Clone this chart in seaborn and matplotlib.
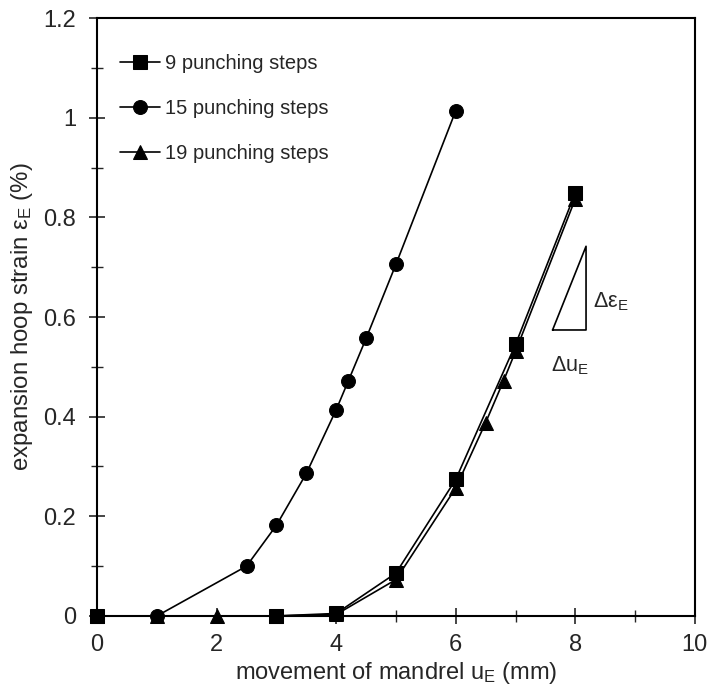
import numpy as np
import pandas as pd
import seaborn as sns
import matplotlib.pyplot as plt
from matplotlib.ticker import MultipleLocator, FuncFormatter

# data
u_9 = [0, 3, 4, 5, 6, 7, 8]
eps_9 = [0, 0, 0.005, 0.086, 0.274, 0.545, 0.849]

u_15 = [0, 1, 2.5, 3, 3.5, 4, 4.2, 4.5, 5, 6]
eps_15 = [0, 0, 0.1, 0.182, 0.286, 0.414, 0.471, 0.557, 0.706, 1.014]

u_19 = [0, 1, 2, 3, 4, 5, 6, 6.5, 6.8, 7, 8]
eps_19 = [0, 0, 0, 0, 0.003, 0.073, 0.257, 0.388, 0.472, 0.531, 0.837]

labels = ['9 punching steps', '15 punching steps', '19 punching steps']
markers = ['s', 'o', '^']

# slope triangle (annotation)
tri_u = [7.62, 8.18, 8.18, 7.62]
tri_eps = [0.574, 0.742, 0.574, 0.574]

sns.set_style('ticks')
plt.rcParams['font.family'] = ['Liberation Sans', 'DejaVu Sans']
plt.rcParams['mathtext.fontset'] = 'custom'
plt.rcParams['mathtext.rm'] = 'Liberation Sans'
plt.rcParams['mathtext.it'] = 'Liberation Sans'

fig = plt.figure(figsize=(7.09, 6.96), dpi=100)
ax = fig.add_axes([0.137, 0.115, 0.843, 0.859])

series = [(u_9, eps_9), (u_15, eps_15), (u_19, eps_19)]
for (u, e), lab, m in zip(series, labels, markers):
    df = pd.DataFrame({'u': u, 'eps': e})
    sns.lineplot(data=df, x='u', y='eps', ax=ax, color='black', marker=m,
                 markersize=10, markeredgecolor='black', linewidth=1.2,
                 label=lab, clip_on=False, zorder=3)

ax.plot(tri_u, tri_eps, color='black', linewidth=1.2)
ax.text(8.3, 0.62, r'Δε$_\mathregular{E}$', fontsize=15.5)
ax.text(7.6, 0.49, r'Δu$_\mathregular{E}$', fontsize=15.5)

ax.set_xlim(0, 10)
ax.set_ylim(0, 1.2)
ax.xaxis.set_major_locator(MultipleLocator(2))
ax.xaxis.set_minor_locator(MultipleLocator(1))
ax.yaxis.set_major_locator(MultipleLocator(0.2))
ax.yaxis.set_minor_locator(MultipleLocator(0.1))
ax.yaxis.set_major_formatter(FuncFormatter(lambda v, p: '{:g}'.format(round(v, 2))))
ax.tick_params(which='major', direction='inout', length=12, width=1.2, labelsize=17,
               top=False, right=False)
ax.tick_params(axis='x', which='major', pad=7)
ax.tick_params(axis='y', which='major', pad=9)
ax.tick_params(which='minor', direction='inout', length=8, width=1.0, top=False, right=False)
for s in ax.spines.values():
    s.set_linewidth(1.5)
    s.set_color('black')

ax.set_xlabel(r'movement of mandrel u$_\mathregular{E}$ (mm)', fontsize=17, labelpad=3)
ax.set_ylabel(r'expansion hoop strain ε$_\mathregular{E}$ (%)', fontsize=17.3, labelpad=6)

ax.legend(loc='upper left', bbox_to_anchor=(0.018, 0.96), frameon=False, fontsize=14.5,
          handlelength=2.0, handletextpad=0.25, labelspacing=1.3, borderaxespad=0.2)

fig.savefig('out.png', dpi=100)
